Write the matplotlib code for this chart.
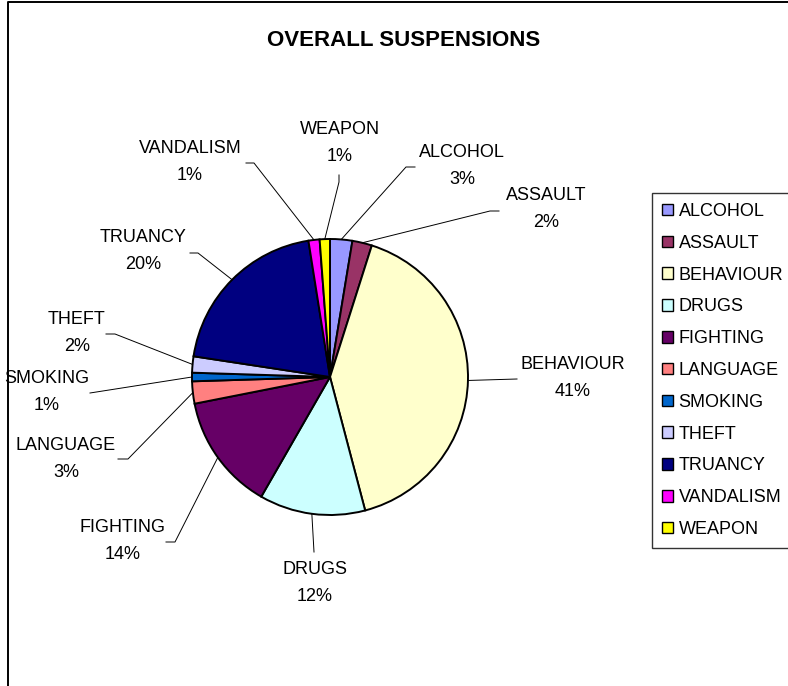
import numpy as np
import matplotlib
matplotlib.use("Agg")
import matplotlib.pyplot as plt
from matplotlib.lines import Line2D

plt.rcParams['font.family'] = ['Liberation Sans', 'DejaVu Sans']

# Share of suspensions by reason
categories = ["ALCOHOL", "ASSAULT", "BEHAVIOUR", "DRUGS", "FIGHTING", "LANGUAGE",
              "SMOKING", "THEFT", "TRUANCY", "VANDALISM", "WEAPON"]
shares = [2.6, 2.3, 41.0, 12.4, 13.6, 2.6, 1.0, 1.9, 20.1, 1.3, 1.2]
colors = ["#9999FF", "#993366", "#FFFFCC", "#CCFFFF", "#660066", "#FF8080",
          "#0066CC", "#CCCCFF", "#000080", "#FF00FF", "#FFFF00"]

W, H = 788, 686
fig = plt.figure(figsize=(W / 100, H / 100), dpi=100)
ax = fig.add_axes([0, 0, 1, 1])

# pixel-style layout helpers (y measured downward from top)
def P(x, y):
    return (x, H - y)

cx, cy, R = 330, 377, 138
wedges, _ = ax.pie(shares, colors=colors, startangle=90, counterclock=False,
                   center=P(cx, cy), radius=R,
                   wedgeprops=dict(edgecolor="black", linewidth=1.4))
ax.set_xlim(0, W)
ax.set_ylim(0, H)
ax.set_aspect("equal")
ax.axis("off")

# label block centres and leader-line start/elbow points, per category
label_centres = [(462, 166), (546, 209), (573, 378), (315, 583), (123, 541),
                 (66, 459), (47, 392), (77, 333), (143, 251), (190, 162), (340, 143)]
leader_paths = [[(415, 167), (406, 167)],
                [(499, 211), (490, 211)],
                [(517, 379)],
                [(314, 552)],
                [(166, 542), (175, 542)],
                [(118, 459), (128, 459)],
                [(90, 393)],
                [(106, 334), (115, 334)],
                [(190, 253), (198, 253)],
                [(246, 163), (254, 163)],
                [(339, 175), (339, 182)]]

total = sum(shares)
for w, name, val, (lx, ly), path in zip(wedges, categories, shares,
                                         label_centres, leader_paths):
    ang = np.deg2rad((w.theta1 + w.theta2) / 2)
    ex, ey = cx + R * np.cos(ang), cy - R * np.sin(ang)
    pts = [P(px, py) for px, py in path] + [P(ex, ey)]
    xs, ys = zip(*pts)
    ax.add_line(Line2D(xs, ys, color="black", lw=0.7))
    pct = f"{val / total * 100:.0f}%"
    ax.text(*P(lx, ly - 13.5), name, ha="center", va="center", fontsize=13)
    ax.text(*P(lx, ly + 13.5), pct, ha="center", va="center", fontsize=13)

ax.text(*P(404, 40), "OVERALL SUSPENSIONS", ha="center", va="center",
        fontsize=16, fontweight="bold")

# chart-area border (left and top edges)
fig.add_artist(Line2D([8 / W, 8 / W, 1.0], [0.0, 1 - 1.5 / H, 1 - 1.5 / H],
                      transform=fig.transFigure, color="black", lw=1.4))

leg = fig.legend(wedges, categories, loc="upper left",
                 bbox_to_anchor=(652 / W, 1 - 193 / H), fontsize=13,
                 frameon=True, fancybox=False, shadow=False,
                 handlelength=0.62, handleheight=0.62, handletextpad=0.3,
                 labelspacing=0.82, borderpad=0.55, borderaxespad=0)
leg.get_frame().set_edgecolor("black")
leg.get_frame().set_linewidth(1.0)
for h in leg.legend_handles:
    h.set_linewidth(1.0)
    h.set_edgecolor("black")

fig.savefig("out.png", dpi=100)
